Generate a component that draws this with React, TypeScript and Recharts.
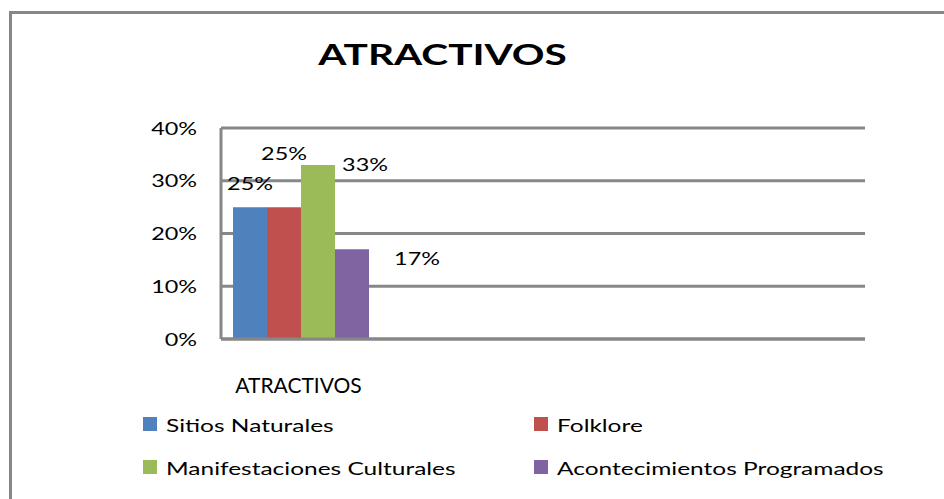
import { BarChart, Bar, XAxis, YAxis, CartesianGrid, LabelList } from "recharts";

// datos del gráfico
const categorias = ["ATRACTIVOS", "", "", ""];
const sitiosNaturales = [25, null, null, null];
const folklore = [25, null, null, null];
const manifestacionesCulturales = [33, null, null, null];
const acontecimientosProgramados = [17, null, null, null];
const ticksY = [0, 10, 20, 30, 40];

const series = [
  { clave: "sitios", nombre: "Sitios Naturales", color: "#4F81BD", valores: sitiosNaturales },
  { clave: "folklore", nombre: "Folklore", color: "#C0504D", valores: folklore },
  { clave: "manifestaciones", nombre: "Manifestaciones Culturales", color: "#9BBB59", valores: manifestacionesCulturales },
  { clave: "acontecimientos", nombre: "Acontecimientos Programados", color: "#8064A2", valores: acontecimientosProgramados },
];

const data = categorias.map((categoria, i) => {
  const fila: Record<string, string | number | null> = { categoria };
  series.forEach((s) => {
    fila[s.clave] = s.valores[i];
  });
  return fila;
});

// posición de cada etiqueta respecto al centro superior de su barra
const desplazamientos: Record<string, [number, number]> = {
  sitios: [0, -24],
  folklore: [0, -54],
  manifestaciones: [47, 0],
  acontecimientos: [65, 9],
};

const FUENTE = "Lato, 'Open Sans', sans-serif";
const GRIS = "#878787";

const TextoEstirado = ({
  x,
  y,
  texto,
  tam = 18,
  escala = 1.3,
  anchor = "start",
  peso = 400,
}: {
  x: number;
  y: number;
  texto: string;
  tam?: number;
  escala?: number;
  anchor?: "start" | "middle" | "end";
  peso?: number;
}) => (
  <text
    transform={`translate(${x},${y}) scale(${escala},1)`}
    fontFamily={FUENTE}
    fontSize={tam}
    fontWeight={peso}
    textAnchor={anchor}
    fill="#000"
  >
    {texto}
  </text>
);

const TickY = (props: any) => (
  <TextoEstirado x={props.x} y={props.y + 6.5} texto={`${props.payload.value}%`} anchor="end" />
);

const TickX = (props: any) => (
  <TextoEstirado x={props.x - 3} y={props.y} texto={props.payload.value} anchor="middle" tam={21} escala={1} />
);

const etiqueta = (clave: string) => (props: any) => {
  if (props.value === null || props.value === undefined) return null;
  const [dx, dy] = desplazamientos[clave];
  const cx = Number(props.x) + Number(props.width) / 2 + dx;
  const cy = Number(props.y) + dy;
  return <TextoEstirado x={cx} y={cy + 6.5} texto={`${props.value}%`} anchor="middle" />;
};

export default function App() {
  return (
    <div
      style={{
        position: "absolute",
        left: 0,
        top: 0,
        width: 944,
        height: 499,
        overflow: "hidden",
        background: "#fff",
      }}
    >
      {/* marco del área del gráfico */}
      <div
        style={{
          position: "absolute",
          left: 9,
          top: 11,
          width: 1000,
          height: 600,
          border: `3px solid ${GRIS}`,
        }}
      />

      <div style={{ position: "absolute", left: 0, top: 0 }}>
        <BarChart
          width={944}
          height={499}
          data={data}
          margin={{ top: 128, right: 79, bottom: 100, left: 161 }}
          barCategoryGap={12}
          barGap={0}
        >
          <CartesianGrid vertical={false} stroke={GRIS} strokeWidth={3} />
          <XAxis
            dataKey="categoria"
            height={60}
            tickSize={0}
            tickMargin={54}
            axisLine={{ stroke: GRIS, strokeWidth: 3 }}
            tick={TickX}
            interval={0}
          />
          <YAxis
            width={60}
            domain={[0, 40]}
            ticks={ticksY}
            tickSize={0}
            tickMargin={24}
            axisLine={{ stroke: GRIS, strokeWidth: 3 }}
            tick={TickY}
          />
          {series.map((s) => (
            <Bar key={s.clave} dataKey={s.clave} name={s.nombre} fill={s.color} isAnimationActive={false}>
              <LabelList dataKey={s.clave} content={etiqueta(s.clave)} />
            </Bar>
          ))}
        </BarChart>
      </div>

      {/* título y leyenda */}
      <svg width={944} height={499} style={{ position: "absolute", left: 0, top: 0, pointerEvents: "none" }}>
        <TextoEstirado x={442.5} y={65} texto="ATRACTIVOS" tam={28} escala={1.45} peso={700} anchor="middle" />
        {series.map((s, i) => {
          const col = i % 2;
          const fila = Math.floor(i / 2);
          const x = col === 0 ? 143 : 534;
          const y = fila === 0 ? 417 : 460;
          return (
            <g key={s.clave}>
              <rect x={x} y={y} width={14} height={14} fill={s.color} />
              <TextoEstirado x={x + 23} y={y + 15} texto={s.nombre} escala={1.36} />
            </g>
          );
        })}
      </svg>
    </div>
  );
}
